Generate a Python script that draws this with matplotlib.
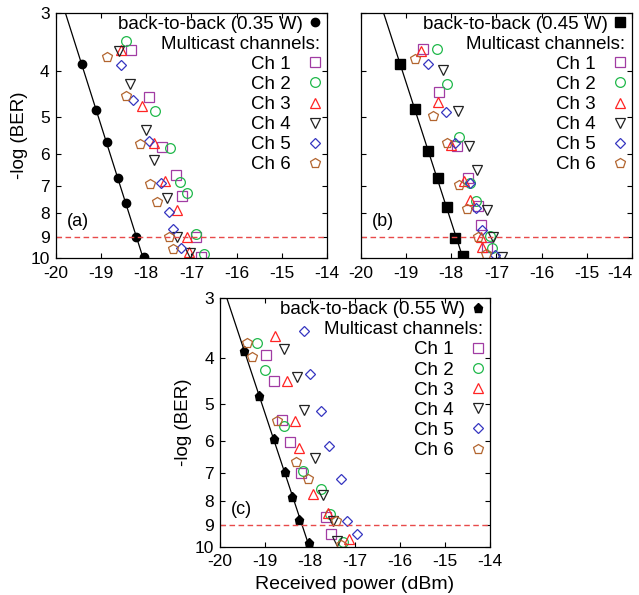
import numpy as np
import matplotlib
matplotlib.use("Agg")
import matplotlib.pyplot as plt
import matplotlib.ticker as mticker
import matplotlib.transforms as mtransforms

plt.rcParams['font.family'] = ['Liberation Sans', 'DejaVu Sans']
plt.rcParams['axes.unicode_minus'] = False
plt.rcParams['xtick.direction'] = 'in'
plt.rcParams['ytick.direction'] = 'in'
plt.rcParams['xtick.top'] = True
plt.rcParams['ytick.right'] = True

# ---- data: received power (dBm) vs -log(BER) ----
ch_names = ["Ch 1", "Ch 2", "Ch 3", "Ch 4", "Ch 5", "Ch 6"]
pump_power = ["0.35 W", "0.45 W", "0.55 W"]
panel_tags = ["(a)", "(b)", "(c)"]

# (a) 0.35 W
a_b2b_x = [-19.43, -19.12, -18.88, -18.63, -18.46, -18.23, -18.06]
a_b2b_y = [3.85, 4.83, 5.65, 6.76, 7.64, 9.02, 9.96]
a_ch_x = [
    [-18.35, -17.94, -17.65, -17.34, -17.20, -16.91, -16.78],
    [-18.46, -17.81, -17.48, -17.26, -17.10, -16.89, -16.73],
    [-18.56, -18.09, -17.84, -17.58, -17.33, -17.11, -17.06],
    [-18.60, -18.37, -18.00, -17.84, -17.54, -17.31, -17.04],
    [-18.55, -18.29, -17.94, -17.67, -17.50, -17.40, -17.24],
    [-18.88, -18.45, -18.15, -17.91, -17.76, -17.50, -17.40],
]
a_ch_y = [
    [3.60, 4.53, 5.79, 6.65, 7.36, 9.02, 9.96],
    [3.44, 4.85, 5.83, 6.87, 7.25, 8.88, 9.79],
    [3.60, 4.74, 5.67, 6.84, 7.89, 9.00, 9.68],
    [3.62, 4.26, 5.33, 6.18, 7.45, 9.03, 9.73],
    [3.88, 4.60, 5.63, 6.93, 7.96, 8.68, 9.52],
    [3.72, 4.51, 5.72, 6.96, 7.59, 9.02, 9.57],
]

# (b) 0.45 W
b_b2b_x = [-19.13, -18.81, -18.51, -18.30, -18.10, -17.91, -17.74]
b_b2b_y = [3.85, 4.82, 5.90, 6.74, 7.76, 9.07, 9.89]
b_ch_x = [
    [-18.63, -18.27, -17.88, -17.63, -17.40, -17.33, -17.21],
    [-18.32, -18.10, -17.82, -17.58, -17.46, -17.15, -17.10],
    [-18.66, -18.30, -18.01, -17.71, -17.58, -17.35, -17.31],
    [-18.17, -17.85, -17.60, -17.43, -17.20, -17.08, -16.88],
    [-18.52, -18.12, -17.92, -17.58, -17.45, -17.32, -17.03],
    [-18.81, -18.41, -18.10, -17.82, -17.65, -17.40, -17.23],
]
b_ch_y = [
    [3.59, 4.42, 5.76, 6.75, 7.74, 8.51, 9.48],
    [3.58, 4.26, 5.51, 6.93, 7.56, 8.97, 9.52],
    [3.62, 4.64, 5.74, 6.84, 7.52, 9.00, 9.48],
    [3.97, 4.85, 5.76, 6.49, 7.89, 9.02, 9.92],
    [3.85, 4.89, 5.69, 6.93, 7.83, 8.71, 9.86],
    [3.76, 4.99, 5.69, 6.98, 7.84, 9.02, 9.81],
]

# (c) 0.55 W
c_b2b_x = [-19.46, -19.13, -18.79, -18.56, -18.41, -18.24, -18.02]
c_b2b_y = [3.88, 4.81, 5.93, 6.95, 7.85, 8.79, 9.81]
c_ch_x = [
    [-18.98, -18.81, -18.62, -18.44, -18.19, -17.64, -17.54],
    [-19.18, -18.99, -18.58, -18.16, -17.75, -17.56, -17.27],
    [-18.77, -18.51, -18.33, -18.24, -17.93, -17.59, -17.13],
    [-18.57, -18.30, -18.14, -17.88, -17.72, -17.49, -17.41],
    [-18.13, -18.01, -17.76, -17.57, -17.32, -17.18, -16.96],
    [-19.40, -19.28, -18.73, -18.31, -18.04, -17.43, -17.30],
]
c_ch_y = [
    [3.95, 4.47, 5.41, 6.03, 6.98, 8.68, 9.42],
    [3.73, 4.25, 5.56, 6.93, 7.56, 8.53, 9.77],
    [3.61, 4.48, 5.45, 6.19, 7.75, 8.48, 9.62],
    [3.83, 4.39, 5.15, 6.52, 7.77, 8.81, 9.71],
    [3.51, 4.32, 5.18, 6.14, 7.20, 8.83, 9.40],
    [3.72, 3.98, 5.45, 6.62, 7.20, 8.83, 9.92],
]

ber_limit = 9
xticks = [-20, -19, -18, -17, -16, -15, -14]
yticks = [3, 4, 5, 6, 7, 8, 9, 10]

ch_markers = ['s', 'o', '^', 'v', 'D', 'p']
ch_colors = ['#a13ca3', '#1fb84a', '#ff2424', '#222222', '#3535c0', '#b2652f']
ch_sizes = [7, 7, 7, 7, 5.5, 7.5]
b2b_markers = ['o', 's', 'p']
b2b_sizes = [6, 6.5, 6.5]


def draw_panel(ax, bx, by, chx, chy, k, ylab=True, xlab=False):
    # linear fit of log(-logBER) vs power for the back-to-back line
    m, b = np.polyfit(bx, np.log10(by), 1)
    fx = (np.log10([3, 10]) - b) / m
    ax.plot(fx, 10 ** (m * fx + b), color='black', lw=0.9)
    h_b2b, = ax.plot(bx, by, b2b_markers[k], color='black', ms=b2b_sizes[k],
                     label="back-to-back (%s)" % pump_power[k])
    handles = [h_b2b, plt.Line2D([], [], ls='none')]
    labels = [h_b2b.get_label(), "Multicast channels:"]
    for i in range(6):
        h, = ax.plot(chx[i], chy[i], ch_markers[i], mfc='none', mec=ch_colors[i],
                     mew=0.9, ms=ch_sizes[i], label=ch_names[i])
        handles.append(h)
        labels.append(ch_names[i])
    ax.axhline(ber_limit, color='#e84a4a', ls=(0, (4, 2.5)), lw=1)

    ax.set_yscale('log')
    ax.set_xlim(-20, -14)
    ax.set_ylim(10, 3)
    ax.yaxis.set_major_locator(mticker.FixedLocator(yticks))
    ax.yaxis.set_minor_locator(mticker.NullLocator())
    if ylab:
        ax.yaxis.set_major_formatter(mticker.FixedFormatter([str(t) for t in yticks]))
        ax.set_ylabel("-log (BER)", fontsize=13.5, labelpad=2)
    else:
        ax.yaxis.set_major_formatter(mticker.NullFormatter())
    ax.set_xticks(xticks)
    ax.set_xticklabels([str(t) for t in xticks])
    ax.tick_params(labelsize=12.5, length=3.5, width=0.8)
    ax.tick_params(axis='x', pad=5.5)
    ax.tick_params(axis='y', pad=4.5)
    if xlab:
        ax.set_xlabel("Received power (dBm)", fontsize=14, labelpad=5)
    for s in ax.spines.values():
        s.set_linewidth(0.9)

    ax.text(0.04, 0.15, panel_tags[k], transform=ax.transAxes, fontsize=13,
            ha='left', va='center')

    leg = ax.legend(handles, labels, loc='upper right', markerfirst=False,
                    frameon=False, fontsize=13.5, handlelength=1.0,
                    handletextpad=0.8, labelspacing=0.16, borderpad=0.0,
                    borderaxespad=0.15)
    txts = leg.get_texts()
    txts[0].set_transform(txts[0].get_transform() + mtransforms.Affine2D().translate(12, 0))
    txts[1].set_transform(txts[1].get_transform() + mtransforms.Affine2D().translate(30, 0))


fig = plt.figure(figsize=(6.39, 5.95), dpi=100)
ax_a = fig.add_axes([0.0876, 0.5659, 0.4241, 0.4128])
ax_b = fig.add_axes([0.5645, 0.5659, 0.4246, 0.4128])
ax_c = fig.add_axes([0.3443, 0.0812, 0.4225, 0.4175])

draw_panel(ax_a, a_b2b_x, a_b2b_y, a_ch_x, a_ch_y, 0)
draw_panel(ax_b, b_b2b_x, b_b2b_y, b_ch_x, b_ch_y, 1, ylab=False)
draw_panel(ax_c, c_b2b_x, c_b2b_y, c_ch_x, c_ch_y, 2, xlab=True)

# last tick label of (b) sits at the figure edge: keep it inside
ax_b.get_xticklabels()[-1].set_horizontalalignment('right')

fig.savefig("out.png", dpi=100)
